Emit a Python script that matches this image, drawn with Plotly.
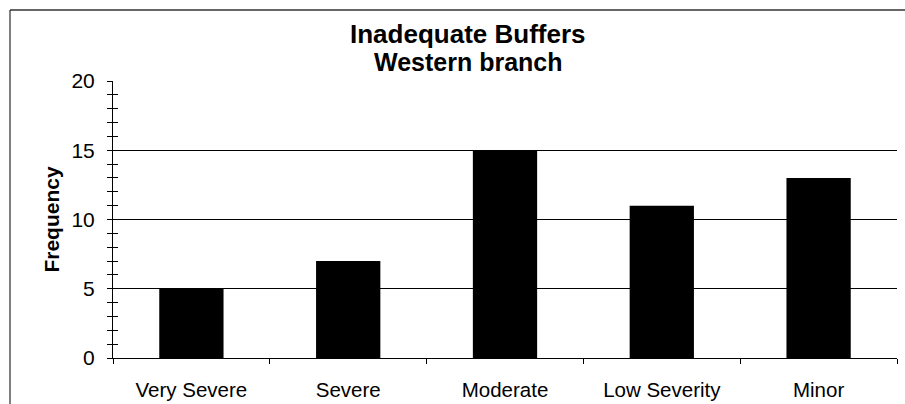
import plotly.graph_objects as go

categories = ["Very Severe", "Severe", "Moderate", "Low Severity", "Minor"]
frequency = [5, 7, 15, 11, 13]
y_range = [0, 20]
grid_values = [5, 10, 15]
title_lines = ["Inadequate Buffers", "Western branch"]

FONT = "Liberation Sans, Arial, sans-serif"
W, H = 905, 404
L, R, T, B = 113, 8, 81, 46
pw, ph = W - L - R, H - T - B

fig = go.Figure()
fig.add_trace(go.Bar(x=categories, y=frequency, marker=dict(color="black", line=dict(width=0)),
                     showlegend=False, hoverinfo="x+y"))
fig.add_trace(go.Scatter(x=categories, y=[None] * len(categories), yaxis="y2", mode="lines",
                         showlegend=False, hoverinfo="skip"))
fig.add_trace(go.Scatter(x=categories, y=[None] * len(categories), yaxis="y3", mode="lines",
                         showlegend=False, hoverinfo="skip"))

# frame of the (cropped) chart area
bx = (10 - L) / pw
by = (H - B - 10) / ph
fig.add_shape(type="line", xref="paper", yref="paper", x0=bx, x1=bx, y0=-0.5, y1=by,
              line=dict(color="black", width=1))
fig.add_shape(type="line", xref="paper", yref="paper", x0=bx, x1=1.2, y0=by, y1=by,
              line=dict(color="#333333", width=1.5))

# two-line title
for text, cy, size in zip(title_lines, [34, 62], [26, 25]):
    fig.add_annotation(text=f"<b>{text}</b>", xref="paper", yref="paper",
                       x=(468 - L) / pw, y=(H - B - cy) / ph, xanchor="center", yanchor="middle",
                       showarrow=False, font=dict(family=FONT, size=size, color="black"))

fig.update_layout(
    width=W, height=H,
    margin=dict(l=L, r=R, t=T, b=B, autoexpand=False),
    paper_bgcolor="white", plot_bgcolor="white",
    font=dict(family=FONT, size=20, color="black"),
    bargap=0.59,
    xaxis=dict(type="category", showline=True, linecolor="black", linewidth=1,
               ticks="outside", tickson="boundaries", ticklen=5, tickcolor="black",
               showgrid=False, tickfont=dict(size=20.5), ticklabelstandoff=13, automargin=False),
    yaxis=dict(range=y_range, showline=True, linecolor="black", linewidth=1,
               tickmode="array", tickvals=grid_values, showticklabels=False, ticks="",
               showgrid=True, gridcolor="black", gridwidth=1, zeroline=False, automargin=False,
               title=dict(text="<b>Frequency</b>", font=dict(size=21), standoff=46)),
    yaxis2=dict(range=y_range, overlaying="y", side="left", dtick=5, ticks="outside",
                ticklen=5, tickcolor="black", showgrid=False, zeroline=False, showline=False,
                tickfont=dict(size=21), ticklabelstandoff=8, automargin=False,
                minor=dict(dtick=1, ticks="outside", ticklen=5, tickcolor="black", showgrid=False)),
    yaxis3=dict(range=y_range, overlaying="y", side="left", dtick=5, ticks="inside",
                ticklen=5, tickcolor="black", showgrid=False, zeroline=False, showline=False,
                showticklabels=False, automargin=False,
                minor=dict(dtick=1, ticks="inside", ticklen=5, tickcolor="black", showgrid=False)),
)

fig.write_html("out.html", config={"displayModeBar": False},
               post_script="document.body.style.margin='0';")
